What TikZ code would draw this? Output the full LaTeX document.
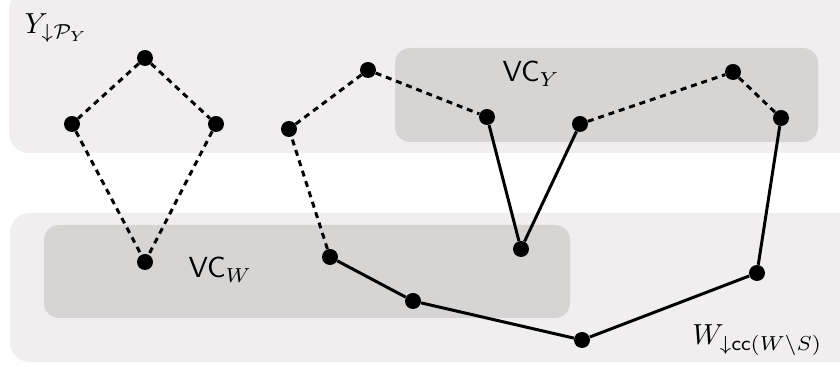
\documentclass[tikz,border=0pt]{standalone}
\usepackage{amsmath}
\usepackage{tikz}

\definecolor{regout}{RGB}{240,238,239}
\definecolor{regin}{RGB}{214,213,212}

\begin{document}
\begin{tikzpicture}[x=0.02cm, y=-0.02cm,
    vtx/.style={circle, fill=black, inner sep=0pt, minimum size=0.32cm},
    lbl/.style={inner sep=0pt, scale=1.65, transform shape},
    tree/.style={line width=1.7pt},
    nontree/.style={line width=1.7pt, dash pattern=on 3.4pt off 2.8pt}]
              \useasboundingbox (0,0) rectangle (840,367);
              % Regiones
              \fill[regout, rounded corners=0.4cm] (9,-10) rectangle (860,153);
              \fill[regout, rounded corners=0.4cm] (10,213) rectangle (860,362);
              \fill[regin, rounded corners=0.3cm] (395,48) rectangle (818,142);
              \fill[regin, rounded corners=0.3cm] (44,225) rectangle (570,318);
              \node[lbl, anchor=base west] (ly) at (24,34) {$Y_{\downarrow\mathcal{P}_Y}$};
              \node[lbl, anchor=base east] (lw) at (823,345) {$W_{\downarrow\textsf{cc}(W\setminus S)}$};
              \node[lbl, anchor=base west] (vcy) at (502,82) {$\textsf{VC}_Y$};
              \node[lbl, anchor=base west] (vcw) at (188,278) {$\textsf{VC}_W$};

              % Nodos
              \node[vtx] (p) at (145,58) {};
              \node[vtx] (q) at (72,124) {};
              \node[vtx] (r) at (216,124) {};
              \node[vtx] (s) at (145,262) {};
              \node[vtx] (a) at (289,129) {};
              \node[vtx] (b) at (368,70) {};
              \node[vtx] (c) at (487,117) {};
              \node[vtx] (d) at (521,249) {};
              \node[vtx] (e) at (580,124) {};
              \node[vtx] (f) at (733,72) {};
              \node[vtx] (g) at (781,118) {};
              \node[vtx] (h) at (757,273) {};
              \node[vtx] (i) at (582,340) {};
              \node[vtx] (j) at (413,301) {};
              \node[vtx] (k) at (330,257) {};

              % Aristas
              \draw[nontree] (p) -- (q);
              \draw[nontree] (p) -- (r);
              \draw[nontree] (q) -- (s);
              \draw[nontree] (r) -- (s);
              \draw[nontree] (k) -- (a);
              \draw[nontree] (a) -- (b);
              \draw[nontree] (b) -- (c);
              \draw[nontree] (e) -- (f);
              \draw[nontree] (f) -- (g);
              \draw[tree] (c) -- (d);
              \draw[tree] (d) -- (e);
              \draw[tree] (g) -- (h);
              \draw[tree] (h) -- (i);
              \draw[tree] (i) -- (j);
              \draw[tree] (j) -- (k);
            \end{tikzpicture}
\end{document}
